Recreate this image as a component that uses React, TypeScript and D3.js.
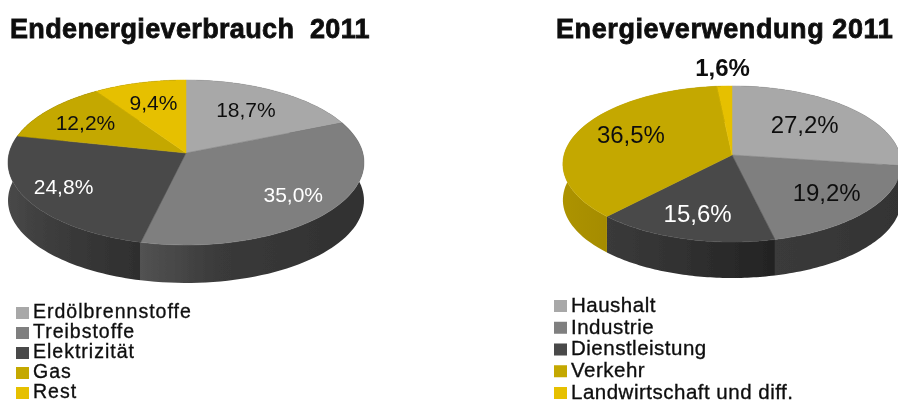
import React from 'react';
import * as d3 from 'd3';

// Two tilted pies, drawn by projecting d3.pie angles through a small perspective

const leftTitle = 'Endenergieverbrauch \u00a02011';
const leftLabels = ['Erdölbrennstoffe', 'Treibstoffe', 'Elektrizität', 'Gas', 'Rest'];
const leftValues = [18.7, 35.0, 24.8, 12.2, 9.4];

const rightTitle = 'Energieverwendung 2011';
const rightLabels = ['Haushalt', 'Industrie', 'Dienstleistung', 'Verkehr', 'Landwirtschaft und diff.'];
const rightValues = [27.2, 19.2, 15.6, 36.5, 1.6];

const colors = ['#a8a8a8', '#7f7f7f', '#494949', '#c4a800', '#e6c000'];
const fmt = (v: number) => v.toFixed(1).replace('.', ',') + '%';
const FONT = '"Liberation Sans", Arial, sans-serif';

type PieProps = {
  id: string;
  values: number[];
  cx: number;
  cy: number;
  rx: number;
  ry: number;
  depth: number;
  labelSize: number;
  labelRadius: number[];
  labelNudge: number[];
  labelColors: string[];
  labelWeights?: number[];
  wallColors: string[][];
};

const TILT = 0.115;

const Pie3D = ({ id, values, cx, cy, rx, ry, depth, labelSize, labelRadius, labelNudge, labelColors, labelWeights, wallColors }: PieProps) => {
  const arcs = d3.pie<number>().sort(null)(values);

  const project = (angle: number, r = 1): [number, number] => {
    const u = Math.sin(angle) * r;
    const v = -Math.cos(angle) * r;
    const w = 1 - TILT * v;
    return [cx + (rx * u) / w, cy + (ry * v) / w];
  };

  const rim = (a: d3.PieArcDatum<number>) =>
    d3.range(0, 61).map((i) => project(a.startAngle + ((a.endAngle - a.startAngle) * i) / 60));

  const line = d3.line();

  return (
    <g>
      <defs>
        {arcs.map((a, i) => {
          const xs = rim(a).map((p) => p[0]);
          return (
            <linearGradient
              key={i}
              id={`${id}-wall-${i}`}
              gradientUnits="userSpaceOnUse"
              x1={d3.min(xs)}
              x2={d3.max(xs)}
              y1={0}
              y2={0}
            >
              <stop offset="0" stopColor={wallColors[i][0]} />
              <stop offset="0.35" stopColor={wallColors[i][1]} />
              <stop offset="1" stopColor={wallColors[i][2]} />
            </linearGradient>
          );
        })}
      </defs>
      {arcs.map((a, i) => {
        const top = rim(a);
        const bottom = top.map(([x, y]) => [x, y + depth] as [number, number]).reverse();
        return <path key={i} d={line([...top, ...bottom]) + 'Z'} fill={`url(#${id}-wall-${i})`} />;
      })}
      {arcs.map((a, i) => (
        <path
          key={i}
          d={line([[cx, cy], ...rim(a)]) + 'Z'}
          fill={colors[i]}
          stroke={colors[i]}
          strokeWidth={0.5}
        />
      ))}
      {arcs.map((a, i) => {
        const [x, y] = project((a.startAngle + a.endAngle) / 2, labelRadius[i]);
        return (
          <text
            key={i}
            x={x}
            y={y + labelNudge[i]}
            dy="0.36em"
            textAnchor="middle"
            fontSize={labelSize}
            fontWeight={labelWeights ? labelWeights[i] : 400}
            fill={labelColors[i]}
            fontFamily={FONT}
          >
            {fmt(a.value)}
          </text>
        );
      })}
    </g>
  );
};

type LegendProps = { labels: string[]; x: number; top: number; bottom: number; size: number; spacing: number };

const Legend = ({ labels, x, top, bottom, size, spacing }: LegendProps) => {
  const y = d3.scalePoint<number>().domain(d3.range(labels.length)).range([top, bottom]);
  return (
    <g>
      {labels.map((label, i) => (
        <g key={label} transform={`translate(${x},${y(i)})`}>
          <rect x={0} y={-6} width={13} height={12} fill={colors[i]} />
          <text
            x={17}
            dy="0.28em"
            fontSize={size}
            letterSpacing={spacing}
            fontFamily={FONT}
            fill="#111"
            stroke="#111"
            strokeWidth={0.35}
          >
            {label}
          </text>
        </g>
      ))}
    </g>
  );
};

const App = () => (
  <svg width={898} height={403} style={{ position: 'absolute', left: 0, top: 0, background: '#fff' }}>
    <defs>
      <filter id="soft" x="-5%" y="-5%" width="110%" height="110%">
        <feGaussianBlur stdDeviation="0.7" />
      </filter>
    </defs>
    <g filter="url(#soft)">
      <text x={10} y={38} fontSize={27} letterSpacing={0.35} fontWeight={700} fontFamily={FONT} fill="#111" stroke="#111" strokeWidth={0.8}>
        {leftTitle}
      </text>
      <text x={556} y={38} fontSize={27} letterSpacing={0.6} fontWeight={700} fontFamily={FONT} fill="#111" stroke="#111" strokeWidth={0.8}>
        {rightTitle}
      </text>
      <Pie3D
        id="left"
        values={leftValues}
        cx={186}
        cy={153}
        rx={176.8}
        ry={81.4}
        depth={38}
        labelSize={21}
        labelRadius={[0.65, 0.75, 0.78, 0.72, 0.68]}
        labelNudge={[-2, 0, -2, 1, -1]}
        labelColors={['#111', '#fff', '#fff', '#111', '#111']}
        wallColors={[
          ['#333', '#333', '#333'],
          ['#525252', '#3a3a3a', '#303030'],
          ['#484848', '#3c3c3c', '#2e2e2e'],
          ['#333', '#333', '#333'],
          ['#333', '#333', '#333'],
        ]}
      />
      <Pie3D
        id="right"
        values={rightValues}
        cx={732}
        cy={155}
        rx={168}
        ry={77}
        depth={36}
        labelSize={24}
        labelRadius={[0.6, 0.72, 0.73, 0.65, 1.28]}
        labelNudge={[-2, -2, -1, -5, -2]}
        labelColors={['#111', '#111', '#fff', '#111', '#111']}
        labelWeights={[400, 400, 400, 400, 700]}
        wallColors={[
          ['#333', '#333', '#333'],
          ['#3a3a3a', '#383838', '#333'],
          ['#3a3a3a', '#333', '#232323'],
          ['#ad9300', '#a38a00', '#8a7500'],
          ['#333', '#333', '#333'],
        ]}
      />
      <Legend labels={leftLabels} x={16} top={313} bottom={393} size={19.5} spacing={1} />
      <Legend labels={rightLabels} x={554} top={306} bottom={393} size={20.5} spacing={0.5} />
    </g>
  </svg>
);

export default App;
